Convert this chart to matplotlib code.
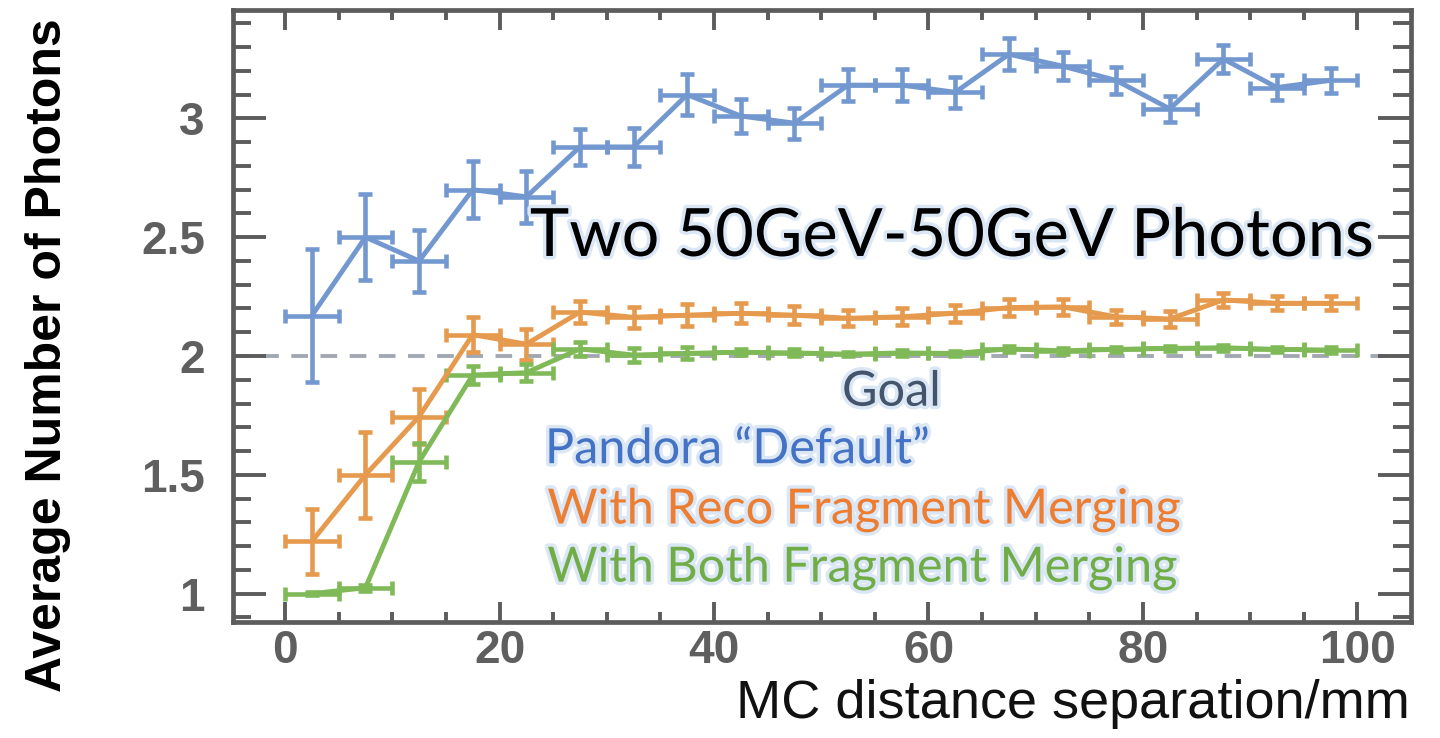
import numpy as np
import matplotlib
matplotlib.use("Agg")
import matplotlib.pyplot as plt
import matplotlib.patheffects as pe

# bin centres (5 mm bins), half width 2.5 mm
x = np.arange(2.5, 100, 5.0)
x_half = 2.5

default_y = [2.17, 2.50, 2.40, 2.70, 2.67, 2.88, 2.88, 3.10, 3.01, 2.98,
             3.14, 3.14, 3.11, 3.27, 3.22, 3.16, 3.04, 3.25, 3.13, 3.16]
default_err = [0.28, 0.18, 0.13, 0.12, 0.11, 0.077, 0.08, 0.085, 0.072, 0.065,
               0.066, 0.066, 0.065, 0.067, 0.06, 0.058, 0.056, 0.06, 0.053, 0.054]

reco_y = [1.22, 1.50, 1.745, 2.09, 2.05, 2.185, 2.163, 2.172, 2.18, 2.172,
          2.159, 2.165, 2.18, 2.204, 2.207, 2.165, 2.156, 2.236, 2.222, 2.222]
reco_err = [0.137, 0.18, 0.115, 0.073, 0.065, 0.047, 0.045, 0.045, 0.042, 0.038,
            0.033, 0.035, 0.035, 0.035, 0.035, 0.03, 0.035, 0.03, 0.03, 0.03]

both_y = [1.0, 1.025, 1.555, 1.92, 1.93, 2.03, 2.004, 2.011, 2.016, 2.013,
          2.008, 2.013, 2.011, 2.03, 2.022, 2.028, 2.032, 2.035, 2.028, 2.025]
both_err = [0.005, 0.012, 0.08, 0.037, 0.035, 0.028, 0.03, 0.025, 0.012, 0.015,
            0.01, 0.012, 0.012, 0.012, 0.012, 0.012, 0.012, 0.012, 0.012, 0.012]

goal = 2.0

series = [
    (default_y, default_err, '#7398d0'),
    (reco_y, reco_err, '#e69a4e'),
    (both_y, both_err, '#80ba58'),
]

labels = ['Goal', 'Pandora \u201cDefault\u201d', 'With Reco Fragment Merging',
          'With Both Fragment Merging']
label_colors = ['#44546a', '#4472c4', '#ed7d31', '#70ad47']

plt.rcParams['lines.scale_dashes'] = False

fig = plt.figure(figsize=(14.4, 7.38), dpi=100)
ax = fig.add_axes([0.1616, 0.1576, 0.8183, 0.8288])

ax.axhline(goal, color='#a2a8b2', lw=2.8, dashes=(12, 9), zorder=1)

for ys, errs, col in series:
    ax.errorbar(x, ys, yerr=errs, xerr=x_half, color=col, lw=3.5,
                elinewidth=3.3, capsize=5, capthick=3.3, zorder=3)

ax.set_xlim(-4.88, 105.0)
ax.set_ylim(0.882, 3.456)

axis_grey = '#5c5c5c'
for s in ax.spines.values():
    s.set_linewidth(3.4)
    s.set_color(axis_grey)

ax.set_xticks(np.arange(0, 101, 20))
ax.set_xticks(np.arange(0, 101, 5), minor=True)
ax.set_yticks([1, 1.5, 2, 2.5, 3])
ax.set_yticklabels(['1', '1.5', '2', '2.5', '3'])
ax.set_yticks(np.arange(0.9, 3.45, 0.1), minor=True)

ax.tick_params(axis='both', which='both', direction='in', color=axis_grey,
               width=2.8, top=True, right=True)
ax.tick_params(axis='x', which='major', length=14.5, pad=5, labelsize=33,
               labelcolor='#5f5f5f')
ax.tick_params(axis='x', which='minor', length=7.2)
ax.tick_params(axis='y', which='major', length=24, pad=20, labelsize=33,
               labelcolor='#5f5f5f')
ax.tick_params(axis='y', which='minor', length=13)
for lab in ax.get_xticklabels() + ax.get_yticklabels():
    lab.set_fontfamily('Liberation Sans')
    lab.set_fontweight('bold')

fig.text(0.033, 0.519, 'Average Number of Photons', rotation=90, ha='center',
         va='center', fontsize=36, fontweight='bold', family='Liberation Sans',
         color='black')
fig.text(0.979, 0.012, 'MC distance separation/mm', ha='right', va='bottom',
         fontsize=39, family='Liberation Sans', color='#111111')

glow = [pe.withStroke(linewidth=5, foreground='#dbe7f5')]
ax.text(0.610, 0.629, 'Two 50GeV-50GeV Photons', transform=ax.transAxes,
        ha='center', va='center', fontsize=48, family='Lato', color='black',
        path_effects=glow, zorder=5)

label_pos = [(0.559, 0.376, 'center'), (0.265, 0.282, 'left'),
             (0.267, 0.183, 'left'), (0.267, 0.088, 'left')]
for text, col, (tx, ty, ha) in zip(labels, label_colors, label_pos):
    ax.text(tx, ty, text, transform=ax.transAxes, ha=ha, va='center',
            fontsize=35, family='Lato', color=col, path_effects=glow, zorder=5)

fig.savefig('out.png', dpi=100)
